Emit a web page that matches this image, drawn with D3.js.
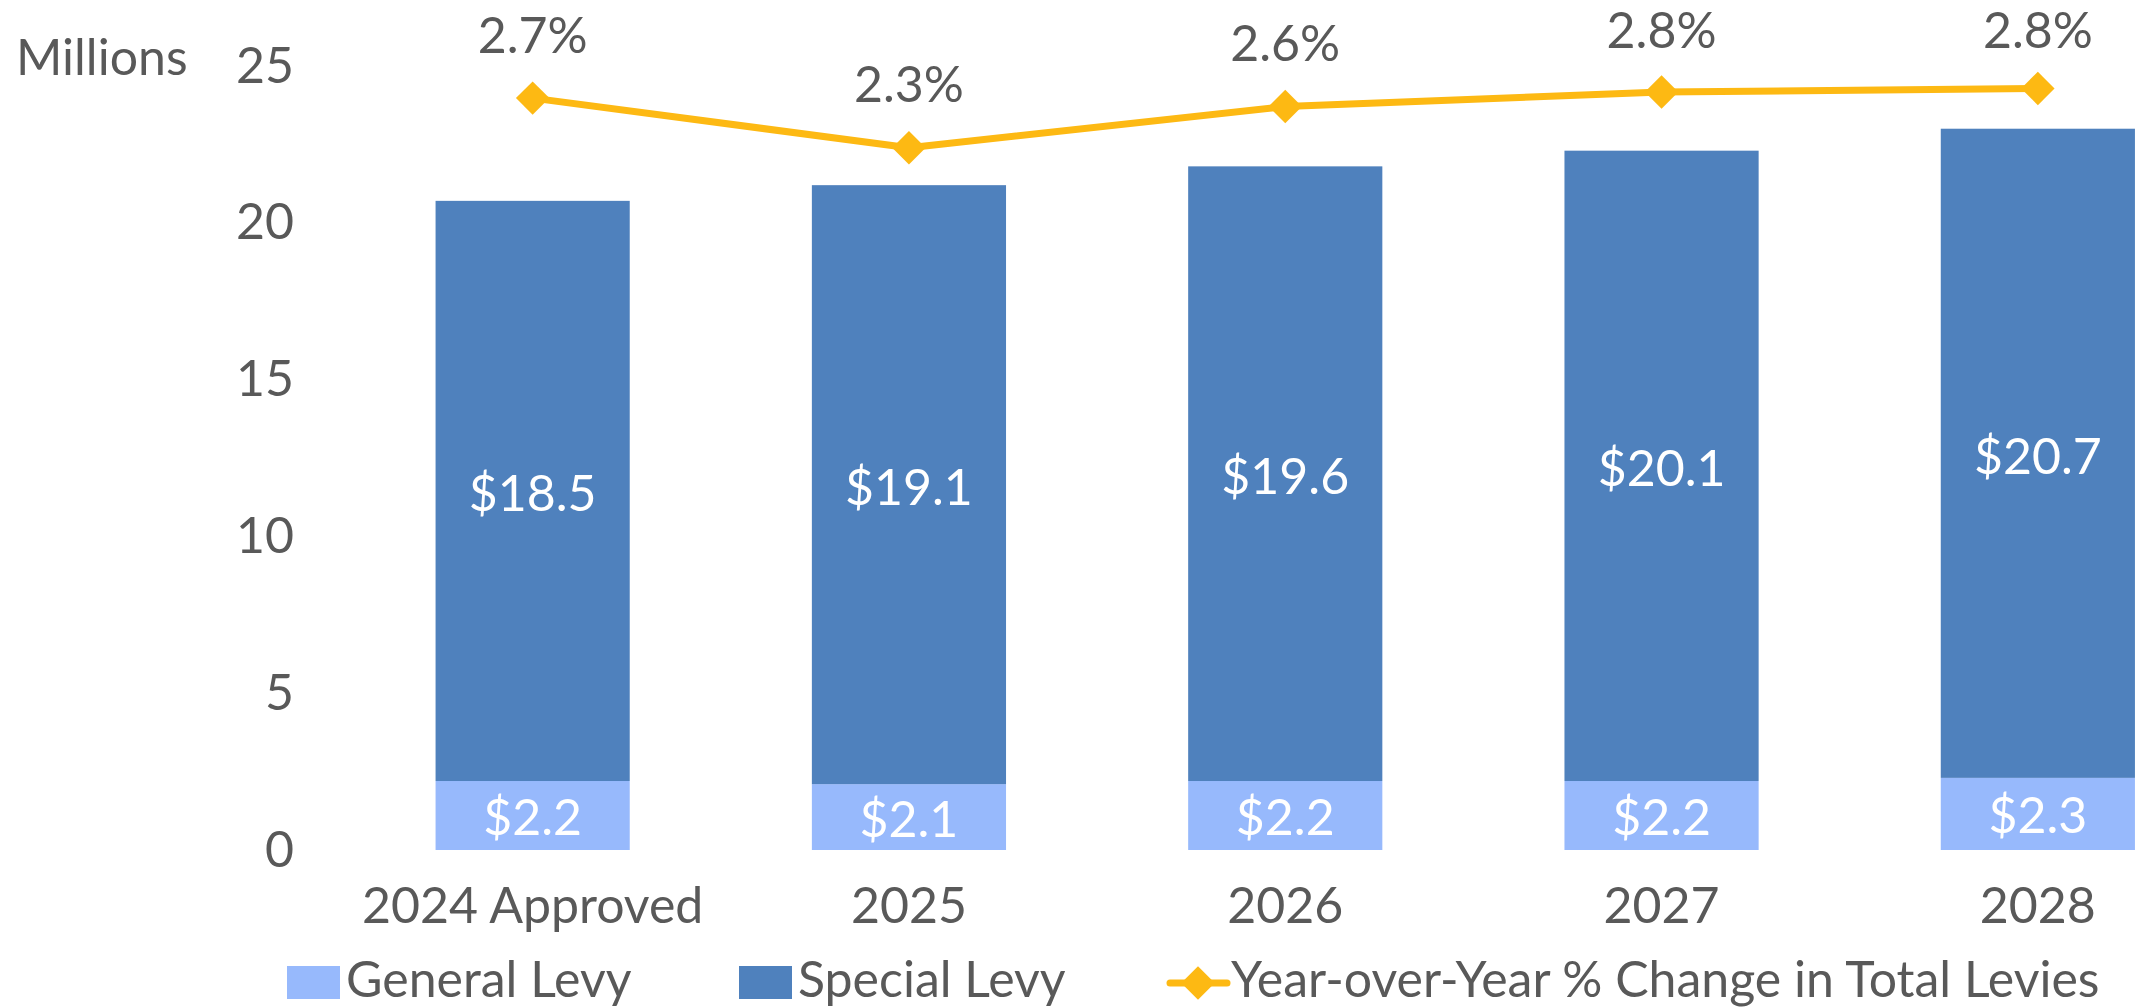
<!DOCTYPE html>
<html>
<head>
<meta charset="utf-8">
<script src="https://cdn.jsdelivr.net/npm/d3@7"></script>
<style>
	body { margin: 0; background: #fff; }
	svg { display: block; font-family: Lato, "Open Sans", sans-serif; }
</style>
</head>
<body>
<div id="chart"></div>
<script>
var WIDTH = 2136;
var HEIGHT = 1008;

var categories = ["2024 Approved", "2025", "2026", "2027", "2028"];
var generalLevy = [2.2, 2.1, 2.2, 2.2, 2.3];
var specialLevy = [18.5, 19.1, 19.6, 20.1, 20.7];
var yoyChange = [2.71, 2.30, 2.64, 2.76, 2.79];
var yTicks = [0, 5, 10, 15, 20, 25];

var TEXT_COLOR = "#595959";
var GENERAL_COLOR = "#97B9FC";
var SPECIAL_COLOR = "#4F81BD";
var LINE_COLOR = "#FDB913";

var rows = categories.map(function(c, i) {
	return { cat: c, general: generalLevy[i], special: specialLevy[i], change: yoyChange[i] };
});

var svg = d3.select("#chart")
	.append("svg")
	.attr("width", WIDTH)
	.attr("height", HEIGHT);

var x = d3.scaleBand()
	.domain(categories)
	.range([344.5, 2226])
	.paddingInner(0.484)
	.paddingOuter(0.242);

var y = d3.scaleLinear().domain([0, 25]).range([850, 66]);
// hidden secondary axis for the % line
var y2 = d3.scaleLinear().domain([-3.5, 3]).range([850, 63]);

// y axis (labels only)
var yAxis = svg.append("g")
	.attr("transform", "translate(294,0)")
	.call(d3.axisLeft(y).tickValues(yTicks).tickSize(0).tickPadding(0));
yAxis.select(".domain").remove();
yAxis.selectAll("text")
	.attr("fill", TEXT_COLOR)
	.style("font-size", "50px")
	.style("font-family", "Lato");

svg.append("text")
	.attr("x", 16)
	.attr("y", 75)
	.attr("fill", TEXT_COLOR)
	.style("font-size", "50px")
	.text("Millions");

// x axis
var xAxis = svg.append("g")
	.attr("transform", "translate(0,850)")
	.call(d3.axisBottom(x).tickSize(0).tickPadding(37));
xAxis.select(".domain").remove();
xAxis.selectAll("text")
	.attr("fill", TEXT_COLOR)
	.style("font-size", "50px")
	.style("font-family", "Lato");

// stacked bars
var bars = svg.append("g");
bars.selectAll(".general")
	.data(rows)
	.join("rect")
	.attr("class", "general")
	.attr("x", d => x(d.cat))
	.attr("width", x.bandwidth())
	.attr("y", d => y(d.general))
	.attr("height", d => y(0) - y(d.general))
	.attr("fill", GENERAL_COLOR);

bars.selectAll(".special")
	.data(rows)
	.join("rect")
	.attr("class", "special")
	.attr("x", d => x(d.cat))
	.attr("width", x.bandwidth())
	.attr("y", d => y(d.general + d.special))
	.attr("height", d => y(d.general) - y(d.general + d.special))
	.attr("fill", SPECIAL_COLOR);

// bar value labels
bars.selectAll(".general-label")
	.data(rows)
	.join("text")
	.attr("x", d => x(d.cat) + x.bandwidth() / 2)
	.attr("y", d => (y(0) + y(d.general)) / 2 + 2)
	.attr("dy", "0.35em")
	.attr("text-anchor", "middle")
	.attr("fill", "#fff")
	.style("font-size", "50px")
	.text(d => "$" + d.general.toFixed(1));

bars.selectAll(".special-label")
	.data(rows)
	.join("text")
	.attr("x", d => x(d.cat) + x.bandwidth() / 2)
	.attr("y", d => (y(d.general) + y(d.general + d.special)) / 2 + 3)
	.attr("dy", "0.35em")
	.attr("text-anchor", "middle")
	.attr("fill", "#fff")
	.style("font-size", "50px")
	.text(d => "$" + d.special.toFixed(1));

// % change line
var line = d3.line()
	.x(d => x(d.cat) + x.bandwidth() / 2)
	.y(d => y2(d.change));

svg.append("path")
	.datum(rows)
	.attr("d", line)
	.attr("fill", "none")
	.attr("stroke", LINE_COLOR)
	.attr("stroke-width", 7)
	.attr("stroke-linejoin", "round");

var diamond = d3.symbol().type(d3.symbolSquare).size(560);

svg.selectAll(".marker")
	.data(rows)
	.join("path")
	.attr("class", "marker")
	.attr("d", diamond)
	.attr("transform", d => `translate(${x(d.cat) + x.bandwidth() / 2},${y2(d.change)}) rotate(45)`)
	.attr("fill", LINE_COLOR);

svg.selectAll(".change-label")
	.data(rows)
	.join("text")
	.attr("class", "change-label")
	.attr("x", d => x(d.cat) + x.bandwidth() / 2)
	.attr("y", d => Math.max(y2(d.change) - 63, 30))
	.attr("dy", "0.35em")
	.attr("text-anchor", "middle")
	.attr("fill", TEXT_COLOR)
	.style("font-size", "50px")
	.text(d => d.change.toFixed(1) + "%");

// legend
var legend = svg.append("g").style("font-size", "50px");

legend.append("rect")
	.attr("x", 287).attr("y", 966)
	.attr("width", 53).attr("height", 33)
	.attr("fill", GENERAL_COLOR);
legend.append("text")
	.attr("x", 346).attr("y", 997)
	.attr("fill", TEXT_COLOR)
	.text("General Levy");

legend.append("rect")
	.attr("x", 739).attr("y", 966)
	.attr("width", 53).attr("height", 33)
	.attr("fill", SPECIAL_COLOR);
legend.append("text")
	.attr("x", 798).attr("y", 997)
	.attr("fill", TEXT_COLOR)
	.text("Special Levy");

legend.append("line")
	.attr("x1", 1170).attr("x2", 1227)
	.attr("y1", 983).attr("y2", 983)
	.attr("stroke", LINE_COLOR)
	.attr("stroke-width", 7)
	.attr("stroke-linecap", "round");
legend.append("path")
	.attr("d", diamond)
	.attr("transform", "translate(1198,983) rotate(45)")
	.attr("fill", LINE_COLOR);
legend.append("text")
	.attr("x", 1231).attr("y", 997)
	.attr("fill", TEXT_COLOR)
	.text("Year-over-Year % Change in Total Levies");
</script>
</body>
</html>
